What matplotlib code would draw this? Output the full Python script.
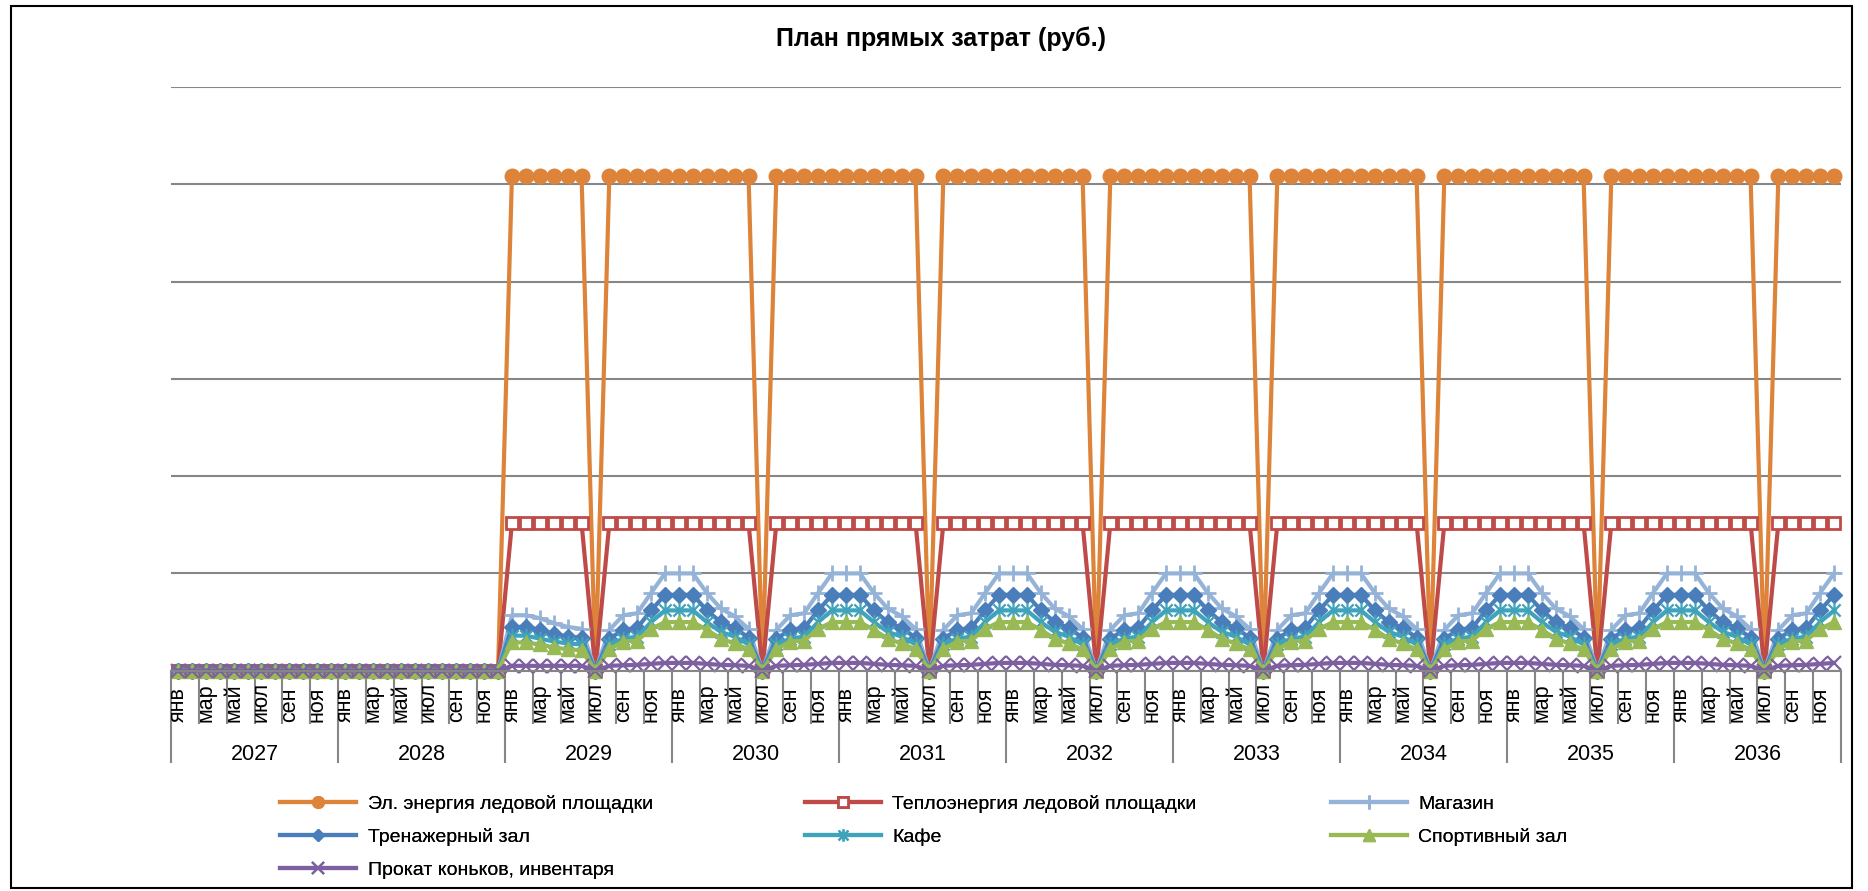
import matplotlib
matplotlib.use("Agg")
import matplotlib.pyplot as plt
from matplotlib.path import Path
from matplotlib.patches import Rectangle

plt.rcParams['font.family'] = ['Liberation Sans', 'DejaVu Sans']

# ---------- data (thousand rub.) ----------
years = [2027, 2028, 2029, 2030, 2031, 2032, 2033, 2034, 2035, 2036]
month_labels = ['янв', 'мар', 'май', 'июл', 'сен', 'ноя']

# 2029 jan-jun (first half of the first season)
el_start = [2545, 2545, 2545, 2545, 2545, 2545]
heat_start = [760, 760, 760, 760, 760, 760]
shop_start = [285, 285, 270, 245, 225, 215]
gym_start = [225, 225, 210, 190, 175, 170]
cafe_start = [180, 180, 165, 150, 140, 135]
sport_start = [145, 145, 135, 120, 110, 105]
rent_start = [25, 25, 25, 25, 25, 25]

# season aug..jun, july is off (zero)
el_season = [2545, 2545, 2545, 2545, 2545, 2545, 2545, 2545, 2545, 2545, 2545]
heat_season = [760, 760, 760, 760, 760, 760, 760, 760, 760, 760, 760]
shop_season = [210, 285, 295, 400, 500, 500, 500, 400, 320, 280, 215]
gym_season = [165, 210, 220, 310, 390, 390, 390, 310, 250, 220, 170]
cafe_season = [135, 165, 175, 250, 310, 310, 310, 250, 200, 175, 135]
sport_season = [110, 150, 155, 215, 250, 250, 250, 210, 165, 140, 110]
rent_season = [25, 28, 30, 35, 40, 40, 40, 35, 30, 28, 25]

names = ['Эл. энергия ледовой площадки', 'Теплоэнергия ледовой площадки',
         'Магазин', 'Тренажерный зал', 'Кафе', 'Спортивный зал',
         'Прокат коньков, инвентаря']


def build(start, season):
    # 2027-2028 closed, 2029 starts in january, then aug..jun seasons
    vals = [0] * 24
    vals += start + [0] + season[:5]
    for _ in years[3:]:
        vals += season[5:] + [0] + season[:5]
    return vals


series = [build(el_start, el_season), build(heat_start, heat_season),
          build(shop_start, shop_season), build(gym_start, gym_season),
          build(cafe_start, cafe_season), build(sport_start, sport_season),
          build(rent_start, rent_season)]

# excel-like "star" marker: x plus vertical bar
star = Path([(-0.8, -0.8), (0.8, 0.8), (-0.8, 0.8), (0.8, -0.8), (0, -1), (0, 1)],
            [Path.MOVETO, Path.LINETO, Path.MOVETO, Path.LINETO,
             Path.MOVETO, Path.LINETO])

styles = [
    dict(color='#DE833A', marker='o', ms=10.5, mfc='#DE833A', mec='#DE833A'),
    dict(color='#BE4B48', marker='s', ms=9, mfc='white', mec='#BE4B48', mew=2),
    dict(color='#95B3D7', marker='+', ms=12, mew=2),
    dict(color='#4A7EBB', marker='D', ms=8),
    dict(color='#3FA3BC', marker=star, ms=11, mew=1.6),
    dict(color='#98B954', marker='^', ms=10),
    dict(color='#7D60A0', marker='x', ms=10, mew=1.6),
]

W, H = 1868, 891
fig = plt.figure(figsize=(W / 100, H / 100), dpi=100)
ax = fig.add_axes([171 / W, 1 - 670.7 / H, (1841 - 171) / W, (670.7 - 87) / H])

x = list(range(len(series[0])))
lines = []
for vals, name, st in zip(series, names, styles):
    ln, = ax.plot(x, vals, lw=3, label=name, clip_on=False, **st)
    lines.append(ln)

step = 500
ax.set_ylim(0, 6 * step)
ax.set_yticks([step * i for i in range(7)])
ax.set_yticklabels([])
ax.tick_params(axis='y', length=0)
ax.grid(axis='y', color='#868686', lw=1.5)
ax.set_axisbelow(True)
ax.set_xlim(-0.5, len(x) - 0.5)
for s in ['top', 'right', 'left']:
    ax.spines[s].set_visible(False)
ax.spines['bottom'].set_color('#868686')
ax.spines['bottom'].set_linewidth(1.5)

# category axis: year boundaries (long) and every second month (short)
ax.set_xticks([12 * i - 0.5 for i in range(len(years) + 1)])
ax.set_xticks([2 * i - 0.5 for i in range(60) if i % 6 != 0], minor=True)
ax.set_xticklabels([])
ax.tick_params(axis='x', which='major', length=66, width=1.5, color='#868686')
ax.tick_params(axis='x', which='minor', length=38, width=1.5, color='#868686')

tr = ax.get_xaxis_transform()
for k in range(len(years)):
    for j, m in enumerate(month_labels):
        ax.text(12 * k + 2 * j, -0.088, m, transform=tr, rotation=90,
                ha='center', va='bottom', fontsize=15.5)
    ax.text(12 * k + 5.5, -0.143, str(years[k]), transform=tr,
            ha='center', va='center', fontsize=15.5)

fig.text(941 / W, 1 - 39 / H, 'План прямых затрат (руб.)', ha='center',
         va='center', fontsize=18, fontweight='bold')

# legend in three columns, filled row by row
cols = [[0, 3, 6], [1, 4], [2, 5]]
col_x = [280, 805, 1331]
for idx, cx in zip(cols, col_x):
    leg = fig.legend([lines[i] for i in idx], [names[i] for i in idx],
                     loc='upper left', bbox_to_anchor=(cx / W, 1 - 795 / H),
                     frameon=False, fontsize=14, handlelength=3.9,
                     handletextpad=0.6, labelspacing=0.78, markerscale=0.8,
                     borderaxespad=0, borderpad=0)
    fig.add_artist(leg)

fig.patches.append(Rectangle((11 / W, 3 / H), (1852 - 11) / W, (885 - 3) / H,
                             transform=fig.transFigure, fill=False,
                             edgecolor='black', lw=1.5))

fig.savefig('out.png', dpi=100)
